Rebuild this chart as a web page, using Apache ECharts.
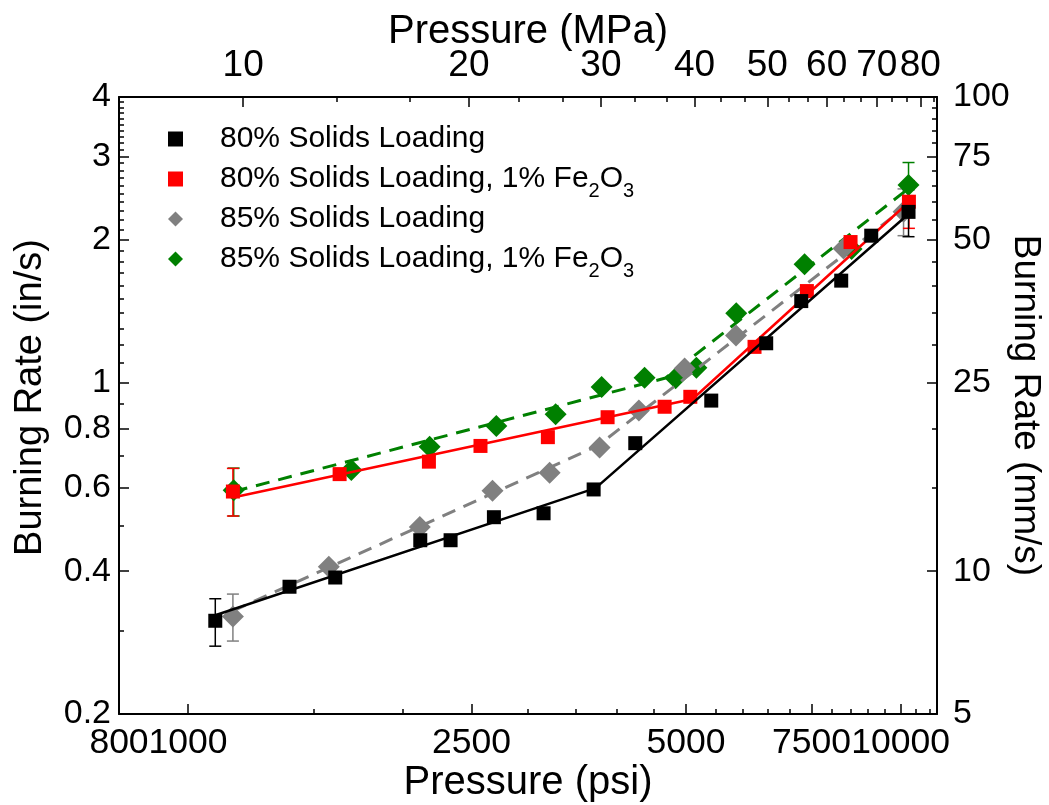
<!DOCTYPE html>
<html>
<head>
<meta charset="utf-8">
<title>Burning Rate vs Pressure</title>
<script src="https://cdn.jsdelivr.net/npm/echarts@6/dist/echarts.min.js"></script>
<style>
  html, body { margin: 0; padding: 0; background: #fff; }
  #chart { width: 1049px; height: 805px; }
</style>
</head>
<body>
<div id="chart"></div>
<script>
// ---- measured burning rates (pressure in psi, rate in in/s) ----
const psi80   = [1092, 1388, 1609, 2118, 2336, 2687, 3155, 3709, 4243, 5424, 6478, 7255, 8255, 9096, 10261];
const rate80  = [0.3145, 0.371, 0.388, 0.465, 0.465, 0.520, 0.530, 0.595, 0.745, 0.916, 1.21, 1.485, 1.64, 2.04, 2.29];

const psi80Fe  = [1156, 1632, 2178, 2573, 3199, 3880, 4665, 5069, 6238, 7388, 8508, 10274];
const rate80Fe = [0.589, 0.641, 0.681, 0.735, 0.767, 0.845, 0.889, 0.933, 1.189, 1.559, 1.978, 2.406];

const psi85   = [1156, 1576, 2115, 2675, 3217, 3781, 4293, 4977, 5876, 8318, 10097];
const rate85  = [0.321, 0.409, 0.496, 0.591, 0.645, 0.729, 0.873, 1.071, 1.257, 1.917, 2.29];

const psi85Fe  = [1159, 1695, 2183, 2708, 3280, 3806, 4372, 4834, 5169, 5880, 7333, 8535, 10261];
const rate85Fe = [0.593, 0.654, 0.732, 0.810, 0.857, 0.978, 1.024, 1.021, 1.075, 1.400, 1.775, 1.912, 2.61];

// ---- piecewise power-law fits (break points) ----
const fit80Psi    = [1092, 3732, 10261];
const fit80Rate   = [0.323, 0.599, 2.267];
const fit80FePsi  = [1156, 5108, 10274];
const fit80FeRate = [0.572, 0.923, 2.402];
const fit85Psi    = [1156, 3756, 10032];
const fit85Rate   = [0.330, 0.735, 2.31];
const fit85FePsi  = [1159, 4679, 10261];
const fit85FeRate = [0.589, 1.022, 2.565];

// ---- error bars: pressure, low, high ----
const err80Psi   = [1092, 10261];
const err80Lo    = [0.278, 2.03];
const err80Hi    = [0.350, 2.55];
const err80FePsi = [1156, 10274];
const err80FeLo  = [0.523, 2.114];
const err80FeHi  = [0.659, 2.664];
const err85Psi   = [1156, 10097];
const err85Lo    = [0.285, 2.04];
const err85Hi    = [0.358, 2.56];
const err85FePsi = [1159, 10261];
const err85FeLo  = [0.523, 2.33];
const err85FeHi  = [0.660, 2.91];

// ---- axis ranges and ticks ----
const psiRange   = [800, 11250];
const psiMajor   = [800, 1000, 2500, 5000, 7500, 10000];
const psiMinor   = [1500, 2000, 3000, 3500, 4000, 4500, 5500, 6000, 6500, 7000, 8000, 8500, 9000, 9500, 10500, 11000];
const mpaRange   = [6.83, 84.2];
const mpaMajor   = [10, 20, 30, 40, 50, 60, 70, 80];
const mpaMinor   = [13.33, 16.67, 23.33, 26.67, 33.33, 36.67, 43.33, 46.67, 53.33, 56.67, 63.33, 66.67, 73.33, 76.67, 83.33];
const rateRange  = [0.2, 4];
const rateMajor  = [0.2, 0.4, 0.6, 0.8, 1, 2, 3, 4];
const rateMinor  = [0.3, 0.5, 0.7, 0.9, 1.1, 1.2, 1.3, 1.4, 1.5, 1.6, 1.7, 1.8, 1.9,
                    2.1, 2.2, 2.3, 2.4, 2.5, 2.6, 2.7, 2.8, 2.9, 3.1, 3.2, 3.3, 3.4, 3.5, 3.6, 3.7, 3.8, 3.9];
const mmRange    = [5, 100];
const mmMajor    = [5, 10, 25, 50, 75, 100];
const mmMinor    = [15, 20, 30, 35, 40, 45, 55, 60, 65, 70, 80, 85, 90, 95];

const names = [
  '80% Solids Loading',
  '80% Solids Loading, 1% Fe2O3',
  '85% Solids Loading',
  '85% Solids Loading, 1% Fe2O3'
];
const colors = ['#000000', '#ff0000', '#808080', '#008000'];

// Both axes are logarithmic: values are plotted as log10 on linear value axes.
const L = Math.log10;
const pairs = (xs, ys) => xs.map((x, i) => [L(x), L(ys[i])]);
const triples = (xs, lo, hi) => xs.map((x, i) => [L(x), L(lo[i]), L(hi[i])]);
const fmt = v => String(+Math.pow(10, v).toPrecision(3));

const FONT = '"Liberation Sans", Arial, Helvetica, sans-serif';
const AXIS_COLOR = '#000';

function logAxis(opts) {
  const base = {
    type: 'value',
    min: L(opts.range[0]),
    max: L(opts.range[1]),
    position: opts.position,
    splitLine: { show: false },
    axisLine: { show: !opts.minor, onZero: false, lineStyle: { color: AXIS_COLOR, width: 2 } },
    axisTick: {
      show: true, inside: true,
      length: opts.minor ? 5 : 10,
      customValues: opts.ticks.map(L),
      lineStyle: { color: AXIS_COLOR, width: 1.5 }
    },
    axisLabel: opts.minor ? { show: false } : {
      show: true,
      customValues: opts.ticks.map(L),
      formatter: fmt,
      hideOverlap: false,
      showMinLabel: true,
      showMaxLabel: true,
      color: '#000',
      fontFamily: FONT,
      fontSize: opts.fontSize || 34,
      margin: opts.margin || 10
    }
  };
  if (opts.name) {
    base.name = opts.name;
    base.nameLocation = 'middle';
    base.nameGap = opts.nameGap;
    base.nameMoveOverlap = false;
    if (opts.nameRotate !== undefined) base.nameRotate = opts.nameRotate;
    base.nameTextStyle = {
      color: '#000', fontFamily: FONT, fontSize: opts.nameSize || 40,
      padding: opts.namePadding || 0
    };
  }
  return base;
}

function errorSeries(idx, xs, lo, hi) {
  return {
    type: 'custom',
    name: names[idx] + ' error',
    xAxisIndex: 0, yAxisIndex: 0,
    data: triples(xs, lo, hi),
    encode: { x: 0, y: [1, 2] },
    z: 3,
    silent: true,
    renderItem: function (params, api) {
      const x = api.value(0);
      const p1 = api.coord([x, api.value(1)]);
      const p2 = api.coord([x, api.value(2)]);
      const w = 6;
      const style = { stroke: colors[idx], lineWidth: 1.5, fill: null };
      return {
        type: 'group',
        children: [
          { type: 'line', shape: { x1: p1[0], y1: p1[1], x2: p2[0], y2: p2[1] }, style: style },
          { type: 'line', shape: { x1: p1[0] - w, y1: p1[1], x2: p1[0] + w, y2: p1[1] }, style: style },
          { type: 'line', shape: { x1: p2[0] - w, y1: p2[1], x2: p2[0] + w, y2: p2[1] }, style: style }
        ]
      };
    }
  };
}

function fitSeries(idx, xs, ys, dashed, z) {
  return {
    type: 'line',
    name: names[idx] + ' fit',
    xAxisIndex: 0, yAxisIndex: 0,
    data: pairs(xs, ys),
    symbol: 'none',
    silent: true,
    z: z,
    lineStyle: { color: colors[idx], width: dashed ? 3 : 2.5, type: dashed ? [14, 9] : 'solid' }
  };
}

function pointSeries(idx, xs, ys, symbol, size, z) {
  return {
    type: 'scatter',
    name: names[idx],
    xAxisIndex: 0, yAxisIndex: 0,
    data: pairs(xs, ys),
    symbol: symbol,
    symbolSize: size,
    z: z,
    itemStyle: { color: colors[idx], opacity: 1 }
  };
}

const chart = echarts.init(document.getElementById('chart'), null, { renderer: 'canvas' });

chart.setOption({
  animation: false,
  backgroundColor: '#ffffff',
  grid: { left: 119, right: 112, top: 97, bottom: 91, containLabel: false, outerBoundsMode: 'none' },
  legend: {
    orient: 'vertical',
    left: 163,
    top: 112,
    itemWidth: 15,
    itemHeight: 15,
    itemGap: -4,
    selectedMode: false,
    data: [
      { name: names[0], icon: 'rect' },
      { name: names[1], icon: 'rect' },
      { name: names[2], icon: 'diamond' },
      { name: names[3], icon: 'diamond' }
    ],
    formatter: n => n.replace('Fe2O3', 'Fe{sub|2}O{sub|3}'),
    textStyle: {
      color: '#000',
      fontFamily: FONT,
      fontSize: 30,
      lineHeight: 44,
      padding: [0, 0, 0, 32],
      rich: {
        sub: { fontFamily: FONT, fontSize: 20, color: '#000', verticalAlign: 'bottom', lineHeight: 44 }
      }
    }
  },
  xAxis: [
    logAxis({ range: psiRange, position: 'bottom', ticks: psiMajor, fontSize: 35.5, name: 'Pressure (psi)', nameGap: 49, margin: 11 }),
    logAxis({ range: psiRange, position: 'bottom', ticks: psiMinor, minor: true }),
    logAxis({ range: mpaRange, position: 'top', ticks: mpaMajor, fontSize: 37, name: 'Pressure (MPa)', nameGap: 45, margin: 13 }),
    logAxis({ range: mpaRange, position: 'top', ticks: mpaMinor, minor: true })
  ],
  yAxis: [
    logAxis({ range: rateRange, position: 'left', ticks: rateMajor, name: 'Burning Rate (in/s)', nameGap: 69, nameSize: 38, namePadding: [0, 0, 0, 16], margin: 8 }),
    logAxis({ range: rateRange, position: 'left', ticks: rateMinor, minor: true }),
    logAxis({ range: mmRange, position: 'right', ticks: mmMajor, name: 'Burning Rate (mm/s)', nameGap: 70, nameSize: 37, nameRotate: -90, margin: 16 }),
    logAxis({ range: mmRange, position: 'right', ticks: mmMinor, minor: true })
  ],
  series: [
    // 85% + Fe2O3 (green, dashed fit)
    errorSeries(3, err85FePsi, err85FeLo, err85FeHi),
    fitSeries(3, fit85FePsi, fit85FeRate, true, 4),
    pointSeries(3, psi85Fe, rate85Fe, 'diamond', 22, 5),
    // 85% (grey, dashed fit)
    errorSeries(2, err85Psi, err85Lo, err85Hi),
    fitSeries(2, fit85Psi, fit85Rate, true, 6),
    pointSeries(2, psi85, rate85, 'diamond', 22, 7),
    // 80% + Fe2O3 (red, solid fit)
    errorSeries(1, err80FePsi, err80FeLo, err80FeHi),
    fitSeries(1, fit80FePsi, fit80FeRate, false, 8),
    pointSeries(1, psi80Fe, rate80Fe, 'rect', 14, 9),
    // 80% (black, solid fit)
    errorSeries(0, err80Psi, err80Lo, err80Hi),
    fitSeries(0, fit80Psi, fit80Rate, false, 10),
    pointSeries(0, psi80, rate80, 'rect', 14, 11)
  ]
});
</script>
</body>
</html>
